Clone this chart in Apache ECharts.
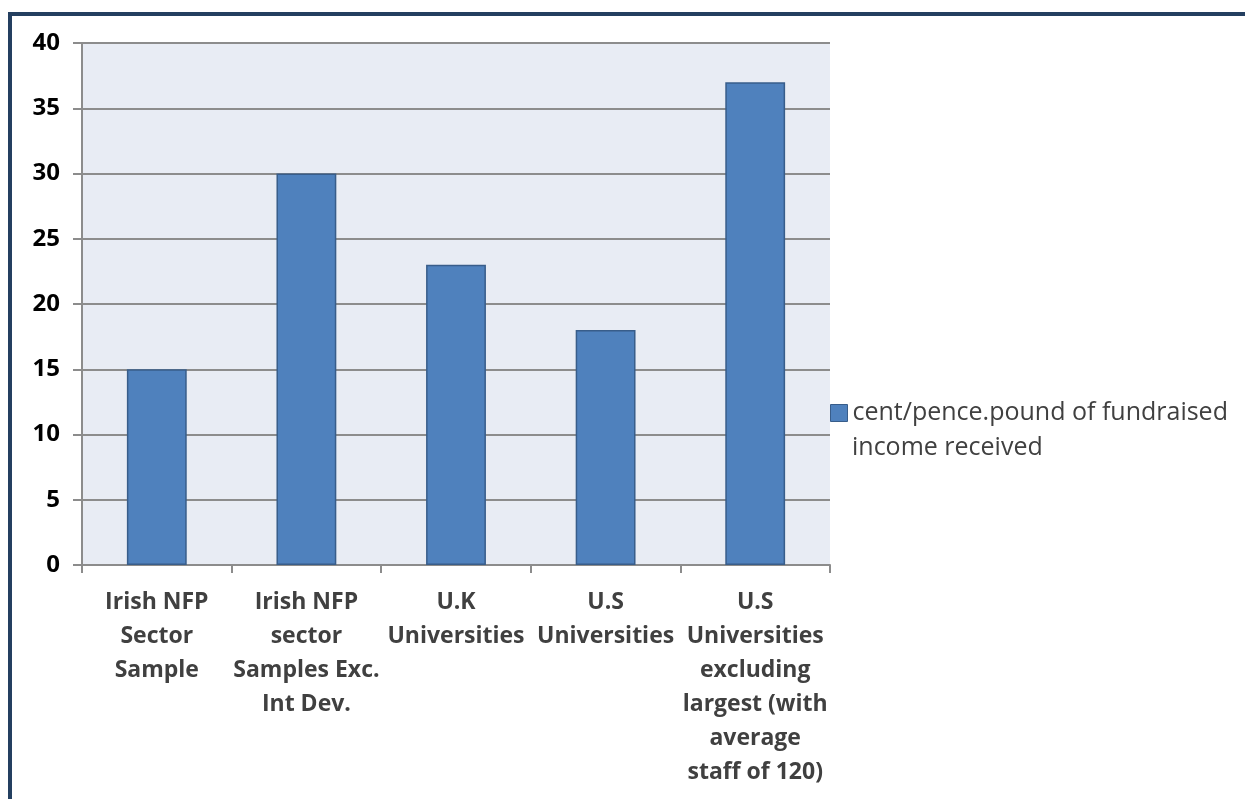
<!DOCTYPE html>
<html><head><meta charset="utf-8">
<script src="https://cdn.jsdelivr.net/npm/echarts@6/dist/echarts.min.js"></script>
<style>html,body{margin:0;padding:0;background:#fff;}#c{width:1245px;height:799px;}</style>
</head><body><div id="c"></div>
<script>
const categories = [
  "Irish NFP\nSector\nSample",
  "Irish NFP\nsector\nSamples Exc.\nInt Dev.",
  "U.K\nUniversities",
  "U.S\nUniversities",
  "U.S\nUniversities\nexcluding\nlargest (with\naverage\nstaff of 120)"
];
const values = [15, 30, 23, 18, 37];
const seriesName = "cent/pence.pound of fundraised income received";
const legendLines = ["cent/pence.pound of fundraised", "income received"];
const yTicks = { min: 0, max: 40, interval: 5 };

const chart = echarts.init(document.getElementById('c'), null, {renderer: 'canvas'});
const font = '"Open Sans", sans-serif';
chart.setOption({
  animation: false,
  backgroundColor: '#ffffff',
  graphic: [
    {type: 'rect', shape: {x: 8, y: 12, width: 1245, height: 4}, style: {fill: '#243f60'}},
    {type: 'rect', shape: {x: 8, y: 12, width: 4, height: 800}, style: {fill: '#243f60'}},
    {type: 'text', left: 852, top: 431, style: {text: legendLines[1], font: '25px ' + font, fill: '#404040', lineHeight: 34}}
  ],
  grid: {left: 82, top: 43, width: 748, height: 522, show: true, backgroundColor: '#e8ecf4', borderWidth: 0},
  legend: {
    left: 825, top: 391, orient: 'vertical',
    itemWidth: 17, itemHeight: 17, itemGap: 0,
    icon: 'rect',
    formatter: function () { return legendLines[0]; },
    textStyle: {fontFamily: font, fontSize: 25, color: '#404040', lineHeight: 34},
    data: [{name: seriesName, itemStyle: {color: '#4f81bd', borderColor: '#385d8a', borderWidth: 1}}]
  },
  xAxis: {
    type: 'category', data: categories,
    axisLine: {show: true, lineStyle: {color: '#8c8c8c', width: 2}},
    axisTick: {show: true, alignWithLabel: false, length: 8, lineStyle: {color: '#8c8c8c', width: 2}},
    axisLabel: {interval: 0, fontFamily: font, fontWeight: 'bold', fontSize: 23, color: '#404040', lineHeight: 34, margin: 20}
  },
  yAxis: {
    type: 'value', min: yTicks.min, max: yTicks.max, interval: yTicks.interval,
    axisLine: {show: true, lineStyle: {color: '#8c8c8c', width: 2}},
    axisTick: {show: true, length: 9, lineStyle: {color: '#8c8c8c', width: 2}},
    splitLine: {show: true, lineStyle: {color: '#8c8c8c', width: 2}},
    axisLabel: {fontFamily: font, fontWeight: 'bold', fontSize: 24, color: '#000', margin: 22}
  },
  series: [{
    name: seriesName, type: 'bar', data: values, barWidth: '40%',
    itemStyle: {color: '#4f81bd', borderColor: '#385d8a', borderWidth: 1.5}
  }]
});
</script></body></html>
